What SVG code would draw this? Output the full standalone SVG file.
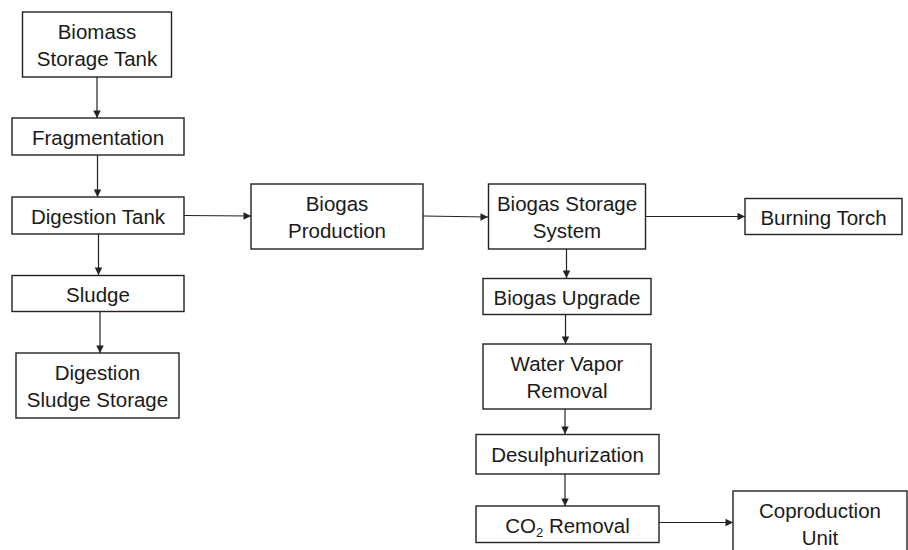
<svg xmlns="http://www.w3.org/2000/svg" width="908" height="550" viewBox="0 0 908 550">
<style>
.box{fill:#fff;stroke:#222;stroke-width:1.4}
.lbl{font-family:"Liberation Sans",Arial,sans-serif;font-size:20.5px;fill:#1a1a1a;text-anchor:middle}
.con{stroke:#222;stroke-width:1.2;fill:none;marker-end:url(#ah)}
</style>
<defs>
<marker id="ah" viewBox="0 0 10 10" refX="10" refY="5" markerWidth="9" markerHeight="7.5" markerUnits="userSpaceOnUse" orient="auto">
<path d="M0,0 L10,5 L0,10 z" fill="#222"/>
</marker>
</defs>
<rect width="908" height="550" fill="#fff"/>
<g id="connectors">
<line class="con" x1="97" y1="77" x2="97" y2="118"/>
<line class="con" x1="97.5" y1="155" x2="97.5" y2="197"/>
<line class="con" x1="184" y1="215.5" x2="251" y2="216"/>
<line class="con" x1="98.5" y1="234" x2="98.5" y2="275"/>
<line class="con" x1="100" y1="312" x2="100" y2="353"/>
<line class="con" x1="423" y1="216" x2="488" y2="217"/>
<line class="con" x1="646" y1="216.5" x2="745" y2="216.5"/>
<line class="con" x1="566.5" y1="249" x2="566.5" y2="278"/>
<line class="con" x1="565.5" y1="314" x2="565.5" y2="344"/>
<line class="con" x1="565" y1="409" x2="565" y2="434"/>
<line class="con" x1="565" y1="474" x2="565" y2="506"/>
<line class="con" x1="659" y1="522.5" x2="733" y2="522.5"/>
</g>
<g id="biomass-storage-tank">
<rect class="box" x="22.5" y="12" width="149" height="65"/>
<text class="lbl" x="97" y="38.5">Biomass</text>
<text class="lbl" x="97" y="65.5">Storage Tank</text>
</g>
<g id="fragmentation">
<rect class="box" x="12" y="118" width="172" height="37"/>
<text class="lbl" x="98" y="144.5">Fragmentation</text>
</g>
<g id="digestion-tank">
<rect class="box" x="12" y="197" width="172" height="37"/>
<text class="lbl" x="98" y="223.5">Digestion Tank</text>
</g>
<g id="sludge">
<rect class="box" x="12" y="275.5" width="172" height="36"/>
<text class="lbl" x="98" y="301.5">Sludge</text>
</g>
<g id="digestion-sludge-storage">
<rect class="box" x="16" y="353" width="163" height="65"/>
<text class="lbl" x="97.5" y="379.5">Digestion</text>
<text class="lbl" x="97.5" y="406.5">Sludge Storage</text>
</g>
<g id="biogas-production">
<rect class="box" x="251" y="184" width="172" height="65"/>
<text class="lbl" x="337" y="210.5">Biogas</text>
<text class="lbl" x="337" y="237.5">Production</text>
</g>
<g id="biogas-storage-system">
<rect class="box" x="488.5" y="184" width="157" height="65"/>
<text class="lbl" x="567" y="210.5">Biogas Storage</text>
<text class="lbl" x="567" y="237.5">System</text>
</g>
<g id="burning-torch">
<rect class="box" x="745" y="198.5" width="157" height="36"/>
<text class="lbl" x="823.5" y="224.5">Burning Torch</text>
</g>
<g id="biogas-upgrade">
<rect class="box" x="483" y="278.5" width="168" height="36"/>
<text class="lbl" x="567" y="304.5">Biogas Upgrade</text>
</g>
<g id="water-vapor-removal">
<rect class="box" x="483" y="344" width="168" height="65"/>
<text class="lbl" x="567" y="370.5">Water Vapor</text>
<text class="lbl" x="567" y="397.5">Removal</text>
</g>
<g id="desulphurization">
<rect class="box" x="476" y="434.5" width="183" height="39.5"/>
<text class="lbl" x="567.5" y="461.5">Desulphurization</text>
</g>
<g id="co2-removal">
<rect class="box" x="476" y="506" width="183" height="36.5"/>
<text class="lbl" x="567.5" y="532.5">CO<tspan font-size="13" dy="4">2</tspan><tspan dy="-4"> Removal</tspan></text>
</g>
<g id="coproduction-unit">
<rect class="box" x="733" y="491" width="174" height="80"/>
<text class="lbl" x="820" y="517.5">Coproduction</text>
<text class="lbl" x="820" y="544.5">Unit</text>
</g>
</svg>
